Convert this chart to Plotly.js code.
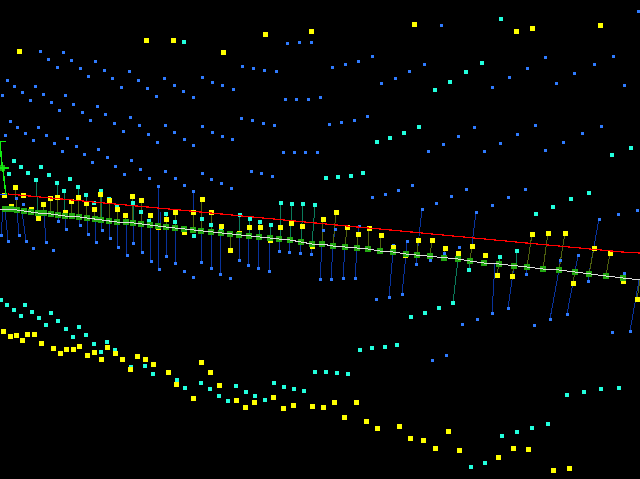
<!DOCTYPE html>
<html><head><meta charset="utf-8">
<script src="https://cdn.plot.ly/plotly-3.0.1.min.js"></script>
<style>
html,body{margin:0;padding:0;background:#000;overflow:hidden}
#chart{width:640px;height:479px}
.scatterlayer path{shape-rendering:crispEdges !important}
</style></head><body><div id="chart"></div>
<script>
const blueX=[40,48,57,63,71,80,88,95,104,112,121,129,138,147,156,164,174,183,193,202,212,222,233,242,253,264,276,287,299,311,7,14,22,30,35,43,51,59,65,73,82,90,97,105,114,123,130,139,148,157,165,174,184,193,202,212,222,232,241,252,263,274,285,296,308,320,2,10,17,25,33,5,38,46,54,62,67,76,84,98,107,131,283,294,305,317,441,638,332,345,358,372,381,395,409,424,492,509,527,545,556,574,594,613,624,329,341,354,367,428,443,458,474,484,500,517,535,545,563,582,601,92,115,124,140,149,158,165,175,184,193,202,211,221,231,251,261,272,16,23,1,8,19,26,46,58,66,80,88,96,102,110,118,133,33,53,127,142,151,159,166,175,184,193,201,211,220,230,239,248,258,269,279,289,300,311,320,331,343,355,389,402,416,430,407,393,359,380,323,335,444,459,372,385,398,412,436,451,466,376,462,477,422,476,525,508,492,618,637,599,578,560,526,588,624,492,508,550,567,630,534,612,543,432,446];
const blueY=[51,59,67,52,60,68,76,61,70,78,87,71,80,88,96,78,85,91,97,77,82,85,89,66,68,70,71,43,42,42,80,86,92,100,86,94,102,110,95,104,112,120,106,114,123,131,117,125,134,142,125,132,139,145,126,132,136,139,118,120,123,125,99,99,99,97,95,121,127,133,140,135,127,135,143,151,138,146,154,149,157,160,152,152,152,152,25,11,67,64,61,56,83,78,71,64,87,77,68,57,83,73,64,56,85,124,122,120,116,151,144,136,127,151,143,134,125,150,142,133,126,162,166,174,169,178,186,171,178,185,191,173,179,183,188,171,173,176,198,204,235,241,235,241,242,221,229,225,234,242,230,238,247,243,248,250,255,252,261,269,256,263,271,277,262,268,274,278,260,265,268,271,251,252,253,254,279,279,278,278,297,294,264,260,241,245,226,249,230,229,253,247,197,194,190,185,203,196,189,299,324,319,209,212,189,197,205,214,210,219,255,260,274,281,273,313,308,319,314,331,325,332,267,360,355];

const cyanX=[184,501,482,466,450,435,419,404,390,377,612,631,14,21,28,9,41,49,36,57,70,64,78,86,101,109,117,133,141,149,94,166,175,202,211,240,250,260,271,281,292,303,315,194,221,326,338,351,363,469,453,439,425,411,589,571,553,536,517,500,1,7,14,21,25,32,39,46,51,58,66,73,79,86,94,101,107,115,131,145,153,177,185,201,210,219,228,236,246,255,265,274,284,294,304,315,326,360,372,385,397,337,348,567,584,601,619,471,485,502,517,532,548];
const cyanY=[42,19,63,72,82,90,127,133,138,142,155,148,161,167,173,174,167,175,180,183,179,191,187,195,191,199,206,203,212,221,203,214,222,219,225,215,219,222,225,203,204,204,205,236,230,178,177,176,173,270,303,308,313,317,193,199,207,214,251,257,300,305,310,316,305,312,318,325,313,321,329,337,327,335,344,352,342,350,367,366,374,380,388,383,389,396,401,386,392,396,400,383,387,389,391,372,372,350,348,347,345,373,374,395,392,389,388,467,463,436,432,428,424];

const yellowX=[19,146,173,223,265,311,414,516,532,600,15,4,23,43,11,31,38,50,57,65,71,78,86,94,100,109,117,125,132,141,150,158,166,175,184,193,202,211,221,230,239,249,260,270,280,291,302,312,323,336,347,358,369,381,393,405,418,432,445,458,472,532,548,565,594,610,485,497,512,573,623,637,3,10,16,22,27,34,41,53,60,66,73,79,87,94,101,107,115,122,130,137,145,153,168,176,193,201,210,219,236,245,254,273,283,293,312,323,334,356,344,366,377,399,410,423,435,448,459,498,513,528,553,569];
const yellowY=[51,40,40,52,34,31,24,31,28,25,187,195,195,204,206,209,218,198,197,212,201,197,203,209,194,200,209,215,196,200,215,227,219,212,232,212,199,212,226,250,233,227,227,240,227,223,226,246,219,212,227,234,228,235,247,255,240,240,248,253,246,234,233,233,248,253,255,275,276,283,281,299,331,336,335,340,334,334,343,348,353,349,349,346,355,352,359,347,353,359,369,356,359,364,372,384,398,362,372,385,400,407,402,397,408,405,406,407,402,402,417,421,428,426,438,440,448,431,450,457,448,449,470,468];

const greenX=[2,5,11,17,24,31,38,44,51,58,65,72,79,87,95,101,109,117,126,133,141,150,158,166,175,184,193,201,211,221,230,239,249,259,270,279,290,301,312,322,333,345,357,368,380,393,406,417,430,444,458,470,484,499,514,527,543,559,575,589,606,623];
const greenY=[168,209,209,210,211,212,213,213,214,215,216,216,217,218,219,220,221,222,222,223,224,225,226,227,228,229,230,231,232,233,234,235,236,237,238,239,240,242,244,244,246,247,248,249,251,252,254,255,256,258,259,261,263,264,266,267,269,270,272,274,276,278];

const whiteX=[0,5,11,17,24,31,38,44,51,58,65,72,79,87,95,101,109,117,126,133,141,150,158,166,175,184,193,201,211,221,230,239,249,259,270,279,290,301,312,322,333,345,357,368,380,393,406,417,430,444,458,470,484,499,514,527,543,559,575,589,606,623,640];
const whiteY=[209,209,209,210,211,212,213,213,214,215,216,216,217,218,219,220,221,222,222,223,224,225,226,227,228,229,230,231,232,233,234,235,236,237,238,239,240,242,244,244,246,247,248,249,251,252,254,255,256,258,259,261,263,264,266,267,269,270,272,274,276,278,280];

const redX=[8,20,30,40,52,62,72,83,93,105,115,125,137,147,157,168,180,190,199,210,220,232,242,252,263,273,285,295,305,315,327,337,348,358,368,380,390,400,410,422,432,442,453,463,475,485,495,505,517,527,537,548,558,568,580,590,600,612,622,640];
const redY=[194,195,196,197,198,199,200,201,202,203,204,205,206,207,208,209,210,211,212,213,214,215,216,217,218,219,220,221,222,223,224,225,226,227,228,229,230,231,232,233,234,235,236,237,238,239,240,241,242,243,244,245,246,247,248,249,250,251,252,253];

const blueTipX=[1,8,19,26,46,58,66,80,88,96,102,110,118,127,133,142,151,159,158,160,166,175,193,201,211,220,239,248,258,269,279,289,300,311,320,331,343,355,389,402,416,422,430,476,407,393,359,380,323,335,492,508,526,543,560,550,567,578,599,588,624,630];
const blueTipY=[235,241,235,241,242,221,229,225,234,242,230,238,247,255,243,252,261,269,186,212,256,263,191,262,268,274,260,265,268,271,251,252,253,254,279,279,278,278,297,294,264,209,260,212,241,245,226,249,230,229,313,308,274,267,260,319,314,255,219,281,273,331];
const blueBaseX=[3,5,17,22,44,58,65,79,87,95,101,109,117,126,133,141,150,158,158,160,166,175,193,201,211,221,239,249,259,270,280,290,301,312,322,333,345,357,393,406,417,417,430,470,406,393,357,380,322,333,495,514,527,543,559,559,575,575,589,589,623,639];
const blueBaseY=[209,209,210,211,213,215,216,217,218,219,220,221,222,222,223,224,225,226,226,230,227,228,230,231,232,233,235,236,237,238,239,240,242,244,245,246,247,248,252,254,255,255,256,261,254,252,248,251,244,246,263,266,267,269,270,270,272,272,274,274,278,280];

const cyanTipX=[36,57,64,78,86,101,109,117,133,141,149,166,175,202,211,240,250,260,271,281,292,303,315,453,469,517,500];
const cyanTipY=[180,183,191,187,195,191,199,206,203,212,221,214,222,219,225,215,219,222,225,203,204,204,205,303,270,251,257];
const cyanBaseX=[38,58,65,79,87,101,109,117,133,141,150,166,175,201,211,239,249,259,270,280,290,301,312,458,470,516,499];
const cyanBaseY=[213,215,216,217,218,220,221,222,223,224,225,227,228,231,232,235,236,237,238,239,240,242,244,259,261,266,264];

const yellowTipX=[15,43,50,57,71,78,86,94,100,109,117,125,132,141,150,166,175,193,202,211,230,323,336,347,358,369,381,418,432,445,458,472,532,548,565,594,610,497,512,573,637];
const yellowTipY=[187,204,198,197,201,197,203,209,194,200,209,215,196,200,215,219,212,212,199,212,250,219,212,227,234,228,235,240,240,248,253,246,234,233,233,248,253,275,276,283,299];
const yellowBaseX=[17,44,51,58,72,79,87,95,101,109,117,126,133,141,150,166,175,193,201,211,230,322,333,345,357,368,380,417,430,444,458,470,527,543,559,589,606,499,514,575,640];
const yellowBaseY=[210,213,214,215,216,217,218,219,220,221,222,222,223,224,225,227,228,230,231,232,234,244,246,247,248,249,251,255,256,258,259,261,267,269,270,274,276,264,266,272,280];

const limeX=[0,1,2,3,4,5,6];
const limeY=[142,155,165,170,177,185,195];
const limeTopX=[0,6];
const limeTopY=[141,141];
const limeBarX=[0,9];
const limeBarY=[168,168];
const shortBlueX=[0,6];
const shortBlueY=[194,194];

function stems(tx,ty,bx,by){const x=[],y=[];tx.forEach((v,i)=>{x.push(v,bx[i],null);y.push(ty[i],by[i],null);});return {x,y};}
function lineTrace(x,y,color,width){return {x,y,mode:'lines',type:'scatter',line:{color:color,width:width},hoverinfo:'skip'};}
function pts(x,y,color,size){return {x,y,mode:'markers',type:'scatter',marker:{symbol:'square',size:size,color:color,line:{width:0}},hoverinfo:'skip'};}
const sb=stems(blueTipX,blueTipY,blueBaseX,blueBaseY), sc=stems(cyanTipX,cyanTipY,cyanBaseX,cyanBaseY), sy=stems(yellowTipX,yellowTipY,yellowBaseX,yellowBaseY);

const data=[
 lineTrace(sb.x,sb.y,'#08329c',1),
 lineTrace(sc.x,sc.y,'#0a7a5a',1),
 lineTrace(sy.x,sy.y,'#4e600e',1),
 pts(blueX,blueY,'#2f7bff',3),
 pts(cyanX,cyanY,'#22ffdd',4),
 pts(yellowX,yellowY,'#ffff00',5),
 pts(greenX,greenY,'#22a811',5.5),
 lineTrace(limeX,limeY,'#11ee11',1.5),
 lineTrace(limeTopX,limeTopY,'#11ee11',1),
 lineTrace(limeBarX,limeBarY,'#11ee11',2),
 lineTrace(redX,redY,'#ff0000',1.2),
 lineTrace(shortBlueX,shortBlueY,'#2040ff',1),
 lineTrace(whiteX,whiteY,'#dddddd',1)
];
const layout={width:640,height:479,margin:{l:0,r:0,t:0,b:0},paper_bgcolor:'#000',plot_bgcolor:'#000',showlegend:false,
 xaxis:{range:[0,640],visible:false,fixedrange:true},yaxis:{range:[479,0],visible:false,fixedrange:true}};
Plotly.newPlot('chart',data,layout,{displayModeBar:false,staticPlot:true});
</script></body></html>
